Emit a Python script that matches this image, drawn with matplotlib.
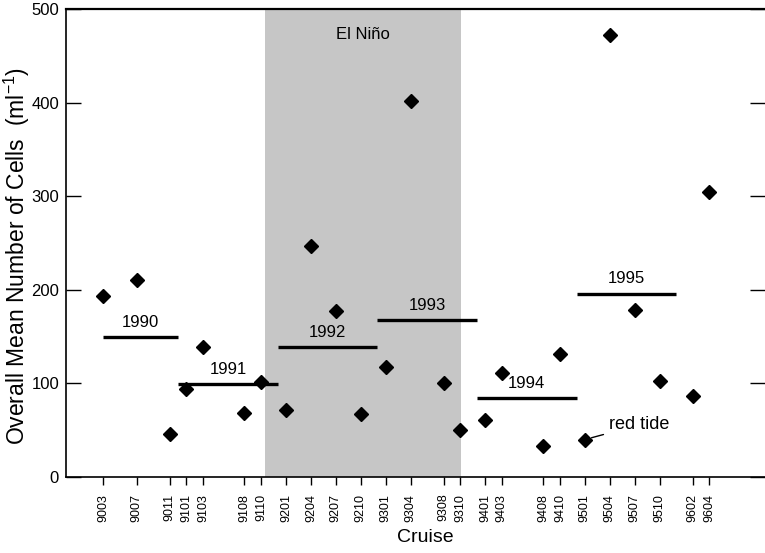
import matplotlib
matplotlib.use("Agg")
import matplotlib.pyplot as plt

plt.rcParams['font.family'] = ['Liberation Sans', 'DejaVu Sans']
plt.rcParams['mathtext.default'] = 'regular'

# cruise codes (YYMM) and overall mean number of cells (ml-1)
cruises = ['9003', '9007', '9011', '9101', '9103', '9108', '9110',
           '9201', '9204', '9207', '9210', '9301', '9304', '9308', '9310',
           '9401', '9403', '9408', '9410', '9501', '9504', '9507', '9510',
           '9602', '9604']
cells = [193, 211, 46, 94, 139, 68, 101,
         72, 247, 177, 67, 118, 402, 100, 50,
         61, 111, 33, 131, 40, 472, 178, 103,
         87, 304]

# annual means, drawn as bars over each year's span (months since Jan 1990)
years = ['1990', '1991', '1992', '1993', '1994', '1995']
year_means = [150, 99, 138.5, 167.5, 84, 196]
year_start = [2, 11, 23, 35, 47, 59]
year_end = [11, 23, 35, 47, 59, 71]

# El Nino period (months since Jan 1990)
nino_start, nino_end = 21.5, 45.1


def month_index(code):
    return (int(code[:2]) - 90) * 12 + int(code[2:]) - 1


x = [month_index(c) for c in cruises]

fig = plt.figure(figsize=(7.65, 5.53), dpi=100)
ax = fig.add_axes([66 / 765, 76 / 553, 1 - 66 / 765, 468 / 553])

ax.axvspan(nino_start, nino_end, color='#c6c6c6', lw=0, zorder=0)
ax.text((nino_start + nino_end) / 2, 473, 'El Niño', ha='center', va='center', fontsize=12)

ax.plot(x, cells, linestyle='none', marker='D', markersize=7, color='black', zorder=3)

for yr, m, s, e in zip(years, year_means, year_start, year_end):
    ax.plot([s, e], [m, m], color='black', lw=2.4, solid_capstyle='butt', zorder=2)
    ax.annotate(yr, xy=((s + e) / 2, m), xytext=(0, 10.5), textcoords='offset points',
                ha='center', va='center', fontsize=12)

ax.annotate('red tide', xy=(month_index('9501'), 40), xytext=(62.9, 55.7),
            ha='left', va='center', fontsize=13,
            arrowprops=dict(arrowstyle='-', color='black', lw=1, shrinkA=2, shrinkB=5))

ax.set_xlim(-2.5, 81.7)
ax.set_ylim(0, 500)
ax.set_xticks(x)
ax.set_xticklabels(cruises, rotation=90, fontsize=9)
ax.set_yticks([0, 100, 200, 300, 400, 500])
ax.tick_params(axis='x', direction='out', length=6, width=1, pad=6)
ax.tick_params(axis='y', direction='in', length=11, width=1, pad=5, labelsize=12,
               right=True)
ax.spines['right'].set_visible(False)
for sp in ['left', 'bottom']:
    ax.spines[sp].set_linewidth(1.2)
ax.spines['top'].set_linewidth(1.6)

fig.text(17 / 765, 1 - 256 / 553, 'Overall Mean Number of Cells  (ml$^{-1}$)',
         rotation=90, ha='center', va='center', fontsize=16.5)
fig.text(425 / 765, 1 - 537 / 553, 'Cruise', ha='center', va='center', fontsize=14)

fig.savefig('out.png', dpi=100)
